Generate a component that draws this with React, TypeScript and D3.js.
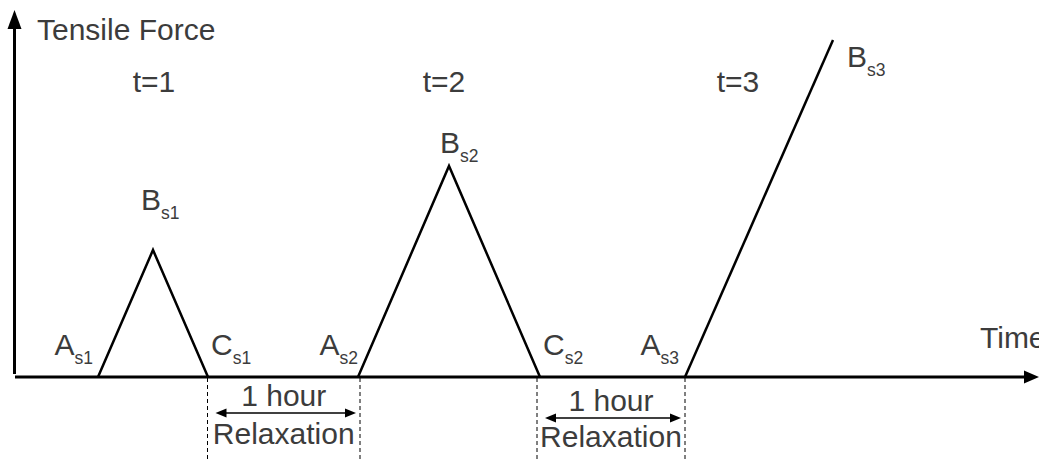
import React from "react";
import * as d3 from "d3";

// ---- data (arbitrary time / force units) ----
const cycleNames = ["t=1", "t=2", "t=3"];
const cycleIndex = ["1", "2", "3"];
const startTimes = [84, 344, 671];
const peakTimes = [139, 435, 819];
const peakForces = [127, 211, 337];
const endTimes: (number | null)[] = [194, 526, null];
const relaxStarts = [193.5, 523];
const relaxEnds = [346, 671];
const relaxTextTop = "1 hour";
const relaxTextBottom = "Relaxation";
const yAxisTitle = "Tensile Force";
const xAxisTitle = "Time";

const W = 1039;
const H = 459;
const x = d3.scaleLinear().domain([0, 1024]).range([14, 1038]);
const y = d3.scaleLinear().domain([0, 367]).range([377, 10]);

const FONT = "'Liberation Sans', Arial, sans-serif";
const TXT = "#3c3c3c";
const FS = 30;
const SUB = 17.5;

function Label({ px, py, main, sub, anchor = "start" }: any) {
  return (
    <text x={px} y={py} fontFamily={FONT} fontSize={FS} fill={TXT} textAnchor={anchor}>
      {main}
      <tspan dy={9} fontSize={SUB}>{sub}</tspan>
    </text>
  );
}

export default function App() {
  const line = d3.line<[number, number]>().x((d) => x(d[0])).y((d) => y(d[1]));
  const paths = startTimes.map((s, i) => {
    const pts: [number, number][] = [[s, 0], [peakTimes[i], peakForces[i]]];
    const e = endTimes[i];
    if (e !== null) pts.push([e, 0]);
    return line(pts) as string;
  });

  const tLabelX = [154, 444, 738];
  const aOffsets = [-5, 0, -6];
  const bOffsets = [
    [-12, -40],
    [-9, -13],
    [14, 27],
  ];

  const y0 = y(0);
  const axisX = 14.5;

  return (
    <svg
      width={W}
      height={H}
      style={{ position: "absolute", left: 0, top: 0, background: "#fff" }}
    >
      {/* axes */}
      <line x1={axisX} x2={axisX} y1={374} y2={26} stroke="#000" strokeWidth={3} />
      <polygon points={`${axisX},10 ${axisX - 7},29 ${axisX + 7},29`} fill="#000" />
      <line x1={15} x2={1026} y1={y0} y2={y0} stroke="#000" strokeWidth={3} />
      <polygon points={`1039,${y0} 1024,${y0 - 6.5} 1024,${y0 + 6.5}`} fill="#000" />

      <text x={37} y={40} fontFamily={FONT} fontSize={FS} fill={TXT}>{yAxisTitle}</text>
      <text x={980} y={348} fontFamily={FONT} fontSize={FS} fill={TXT}>{xAxisTitle}</text>

      {/* load curves */}
      {paths.map((d, i) => (
        <path key={i} d={d} fill="none" stroke="#000" strokeWidth={2.5} strokeLinejoin="miter" />
      ))}

      {/* cycle titles */}
      {cycleNames.map((n, i) => (
        <text key={n} x={tLabelX[i]} y={92} fontFamily={FONT} fontSize={FS} fill={TXT} textAnchor="middle">
          {n}
        </text>
      ))}

      {/* point labels */}
      {startTimes.map((s, i) => (
        <Label key={"A" + i} px={x(s) + aOffsets[i]} py={355} main="A" sub={"s" + cycleIndex[i]} anchor="end" />
      ))}
      {endTimes.map((e, i) =>
        e === null ? null : (
          <Label key={"C" + i} px={x(e) + 3} py={355} main="C" sub={"s" + cycleIndex[i]} />
        )
      )}
      {peakTimes.map((p, i) => (
        <Label
          key={"B" + i}
          px={x(p) + bOffsets[i][0]}
          py={y(peakForces[i]) + bOffsets[i][1]}
          main="B"
          sub={"s" + cycleIndex[i]}
        />
      ))}

      {/* relaxation intervals */}
      {relaxStarts.map((s, i) => {
        const xa = x(s);
        const xb = x(relaxEnds[i]);
        const ay = i === 0 ? 413 : 418;
        const ty = i === 0 ? 406 : 411;
        const by = i === 0 ? 444 : 447;
        const cx = (xa + xb) / 2;
        return (
          <g key={"r" + i}>
            <line x1={xa} x2={xa} y1={y0 + 1} y2={H} stroke="#000" strokeWidth={1} strokeDasharray="4,3" />
            <line x1={xb} x2={xb} y1={y0 + 1} y2={H} stroke="#000" strokeWidth={1} strokeDasharray="4,3" />
            <line x1={xa + 14} x2={xb - 14} y1={ay} y2={ay} stroke="#000" strokeWidth={1.5} />
            <polygon points={`${xa + 8},${ay} ${xa + 19},${ay - 4.5} ${xa + 19},${ay + 4.5}`} fill="#000" />
            <polygon points={`${xb - 4},${ay} ${xb - 15},${ay - 4.5} ${xb - 15},${ay + 4.5}`} fill="#000" />
            <text x={cx} y={ty} fontFamily={FONT} fontSize={FS} fill={TXT} textAnchor="middle">{relaxTextTop}</text>
            <text x={cx} y={by} fontFamily={FONT} fontSize={FS} fill={TXT} textAnchor="middle">{relaxTextBottom}</text>
          </g>
        );
      })}
    </svg>
  );
}
